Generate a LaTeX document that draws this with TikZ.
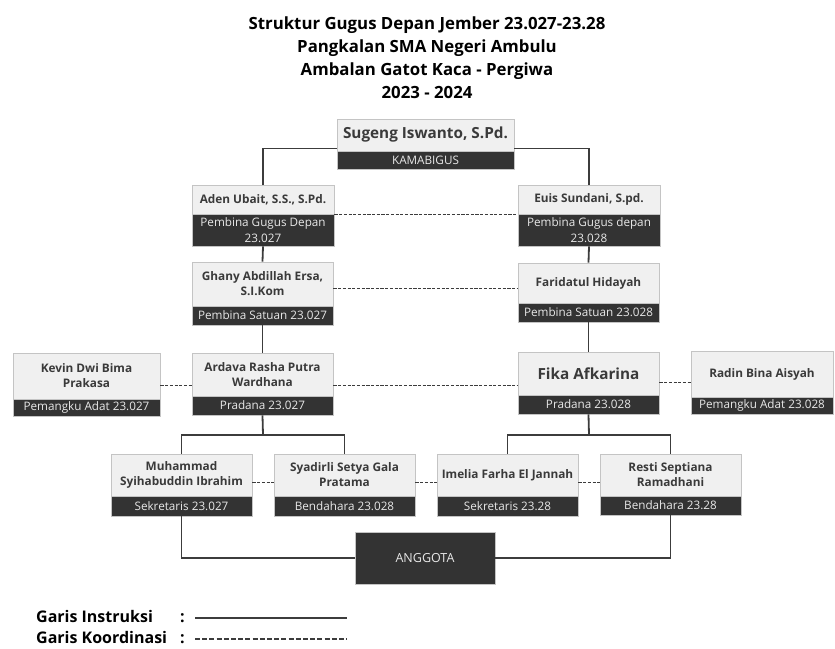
\documentclass[tikz,border=0pt]{standalone}
\usepackage{fontspec}
\setmainfont{Open Sans}
\newfontfamily\titlefont{Open Sans}
\definecolor{boxgray}{HTML}{F0F0F0}
\definecolor{boxline}{HTML}{C4C4C4}
\definecolor{darkband}{HTML}{333333}
\definecolor{nametext}{HTML}{3A3A3A}
\definecolor{roletext}{HTML}{E8E8E8}
\definecolor{conn}{HTML}{3C3C3C}
\newcommand{\obox}[8]{%
  \node[namebox, minimum width={#3-#2}, minimum height={#5-#4}] (#1N) at ({(#2+#3)/2},{(#4+#5)/2}) {#7};
  \node[rolebox, minimum width={#3-#2}, minimum height={#6-#5}] (#1R) at ({(#2+#3)/2},{(#5+#6)/2}) {#8};}
\begin{document}
\begin{tikzpicture}[x=1pt,y=-1pt,
  namebox/.style={draw=boxline, line width=0.8pt, fill=boxgray, inner sep=1pt, align=center,
     text=nametext, font=\fontsize{11.8}{15}\selectfont\bfseries},
  rolebox/.style={draw=boxline, line width=0.8pt, fill=darkband, inner sep=1pt, align=center,
     text=roletext, font=\fontsize{11.7}{16}\selectfont},
  solidline/.style={draw=conn, line width=1.8pt},
  dashline/.style={draw=conn, line width=0.9pt, dash pattern=on 3.2pt off 1.5pt},
  legendtext/.style={font=\titlefont\bfseries\fontsize{16}{18}\selectfont, anchor=base west, inner sep=0pt}]
\useasboundingbox (0,0) rectangle (835,648);
\fill[white] (0,0) rectangle (835,648);

\node[align=center, font=\titlefont\bfseries\fontsize{16.8}{23}\selectfont] (title) at (427,58)
  {Struktur Gugus Depan Jember 23.027-23.28\\Pangkalan SMA Negeri Ambulu\\Ambalan Gatot Kaca - Pergiwa\\2023 - 2024};

\obox{sugeng}{337}{514}{119}{151}{169}{\fontsize{15.3}{17}\selectfont Sugeng Iswanto, S.Pd.}{KAMABIGUS}
\obox{aden}{192}{334}{185}{214}{246}{Aden Ubait, S.S., S.Pd.}{Pembina Gugus Depan\\23.027}
\obox{euis}{518}{660}{185}{214}{246}{Euis Sundani, S.pd.}{Pembina Gugus depan\\23.028}
\obox{ghany}{192}{333}{262}{306}{325}{Ghany Abdillah Ersa,\\S.I.Kom}{Pembina Satuan 23.027}
\obox{farid}{518}{659}{263}{303}{322}{Faridatul Hidayah}{Pembina Satuan 23.028}
\obox{kevin}{13}{160}{353}{399}{416}{Kevin Dwi Bima\\Prakasa}{Pemangku Adat 23.027}
\obox{ardava}{192}{333}{353}{396}{415}{Ardava Rasha Putra\\Wardhana}{Pradana 23.027}
\obox{fika}{518}{659}{352}{395}{414}{\fontsize{15.3}{17}\selectfont Fika Afkarina}{Pradana 23.028}
\obox{radin}{691}{833}{351}{397}{414}{Radin Bina Aisyah}{Pemangku Adat 23.028}
\obox{muh}{111}{252}{454}{496}{516}{Muhammad\\Syihabuddin Ibrahim}{Sekretaris 23.027}
\obox{syad}{274}{415}{454}{496}{516}{Syadirli Setya Gala\\Pratama}{Bendahara 23.028}
\obox{imelia}{437}{578}{454}{496}{516}{Imelia Farha El Jannah}{Sekretaris 23.28}
\obox{resti}{600}{741}{454}{496}{515}{Resti Septiana\\Ramadhani}{Bendahara 23.28}
\node[rolebox, minimum width=140, minimum height=52, font=\fontsize{12.5}{14}\selectfont] (ang) at (425,558) {ANGGOTA};

% solid connectors
\draw[solidline] (adenN.north) |- ([yshift=3pt]sugengN.south west);
\draw[solidline] (euisN.north) |- ([yshift=3pt]sugengN.south east);
\draw[solidline] (adenR.south) -- (ghanyN.north);
\draw[solidline] (ghanyR.south) -- (ardavaN.north);
\draw[solidline] (euisR.south) -- (faridN.north);
\draw[solidline] (faridR.south) -- (fikaN.north);
\coordinate (lbr) at (263,435);
\coordinate (rbr) at (589,435);
\draw[solidline] (ardavaR.south) -- (lbr);
\draw[solidline] (muhN.north) |- (lbr) -| (syadN.north);
\draw[solidline] (fikaR.south) -- (rbr);
\draw[solidline] (imeliaN.north) |- (rbr) -| (restiN.north);
\draw[solidline] (muhR.south) |- (ang.west);
\draw[solidline] (restiR.south) |- (ang.east);

% dashed connectors
\draw[dashline] (adenN.south east) -- (euisN.south west);
\coordinate (g1) at ([yshift=-4pt]ghanyN.east);
\draw[dashline] (g1) -- (g1 -| faridN.west);
\coordinate (k1) at ([yshift=-9pt]kevinN.east);
\draw[dashline] (k1) -- (k1 -| ardavaN.west);
\draw[dashline] (k1 -| ardavaN.east) -- (k1 -| fikaN.west);
\coordinate (f1) at ([yshift=-9pt]fikaN.east);
\draw[dashline] (f1) -- (f1 -| radinN.west);
\coordinate (m1) at ([yshift=-7pt]muhN.east);
\draw[dashline] (m1) -- (m1 -| syadN.west);
\draw[dashline] (m1 -| syadN.east) -- (m1 -| imeliaN.west);
\draw[dashline] (m1 -| imeliaN.east) -- (m1 -| restiN.west);

% legend
\node[legendtext] (lg1) at (36,622) {Garis Instruksi};
\node[legendtext] (lg1c) at (180,622) {:};
\node[legendtext] (lg2) at (36,643) {Garis Koordinasi};
\node[legendtext] (lg2c) at (180,643) {:};
\coordinate (la1) at (195,618);
\coordinate (la2) at (347,618);
\coordinate (lb1) at (195,639);
\coordinate (lb2) at (347,639);
\draw[draw=conn, line width=1.6pt] (la1) -- (la2);
\draw[draw=conn, line width=1.2pt, dash pattern=on 5pt off 2.2pt] (lb1) -- (lb2);
\end{tikzpicture}
\end{document}
